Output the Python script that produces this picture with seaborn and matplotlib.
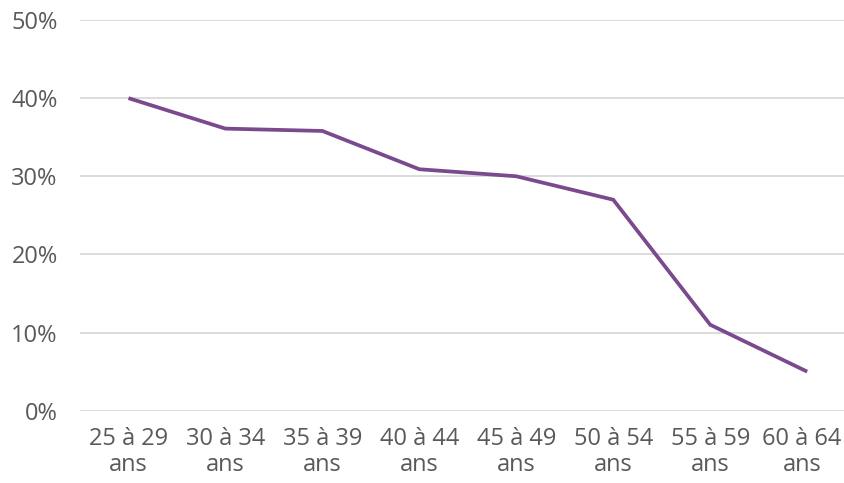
import matplotlib
matplotlib.use("Agg")
import matplotlib.pyplot as plt
import matplotlib.transforms as mtransforms
import seaborn as sns
import pandas as pd
from matplotlib.ticker import FuncFormatter

# Tranches d'âge et part correspondante (%)
tranches = ["25 à 29\nans", "30 à 34\nans", "35 à 39\nans", "40 à 44\nans",
            "45 à 49\nans", "50 à 54\nans", "55 à 59\nans", "60 à 64\nans"]
parts = [40.0, 36.1, 35.8, 30.9, 30.0, 27.0, 11.0, 5.0]
graduations = [0, 10, 20, 30, 40, 50]

df = pd.DataFrame({"tranche": tranches, "part": parts})
df["pos"] = range(len(df))

sns.set_style("white")
plt.rcParams["font.family"] = ["Open Sans", "DejaVu Sans"]

W, H = 845, 483
fig = plt.figure(figsize=(W / 100, H / 100), dpi=100)
ax = fig.add_axes([80 / W, 1 - 410.7 / H, (W - 80) / W, (410.7 - 20) / H])

sns.lineplot(data=df, x="pos", y="part", ax=ax, color="#7B4A8E",
             linewidth=2.7, solid_joinstyle="miter", solid_capstyle="butt")

ax.set_xlim(-0.5, 7.39)
ax.set_ylim(0, 50)
ax.set_yticks(graduations)
ax.yaxis.set_major_formatter(FuncFormatter(lambda v, _: f"{v:.0f}%"))
ax.set_xticks(df["pos"])
ax.set_xticklabels(tranches, linespacing=1.08)

ax.grid(axis="y", color="#DCDCDC", linewidth=1.4)
ax.set_axisbelow(True)
for s in ax.spines.values():
    s.set_visible(False)
ax.tick_params(axis="both", length=0, labelcolor="#595959")
ax.tick_params(axis="y", pad=16, labelsize=17)
ax.tick_params(axis="x", pad=12, labelsize=17)
ax.set_xlabel("")
ax.set_ylabel("")

# keep the last category label inside the right edge
last = ax.get_xticklabels()[-1]
last.set_transform(last.get_transform()
                   + mtransforms.ScaledTranslation(-5 / 100, 0, fig.dpi_scale_trans))

fig.savefig("out.png", dpi=100, facecolor="white")
